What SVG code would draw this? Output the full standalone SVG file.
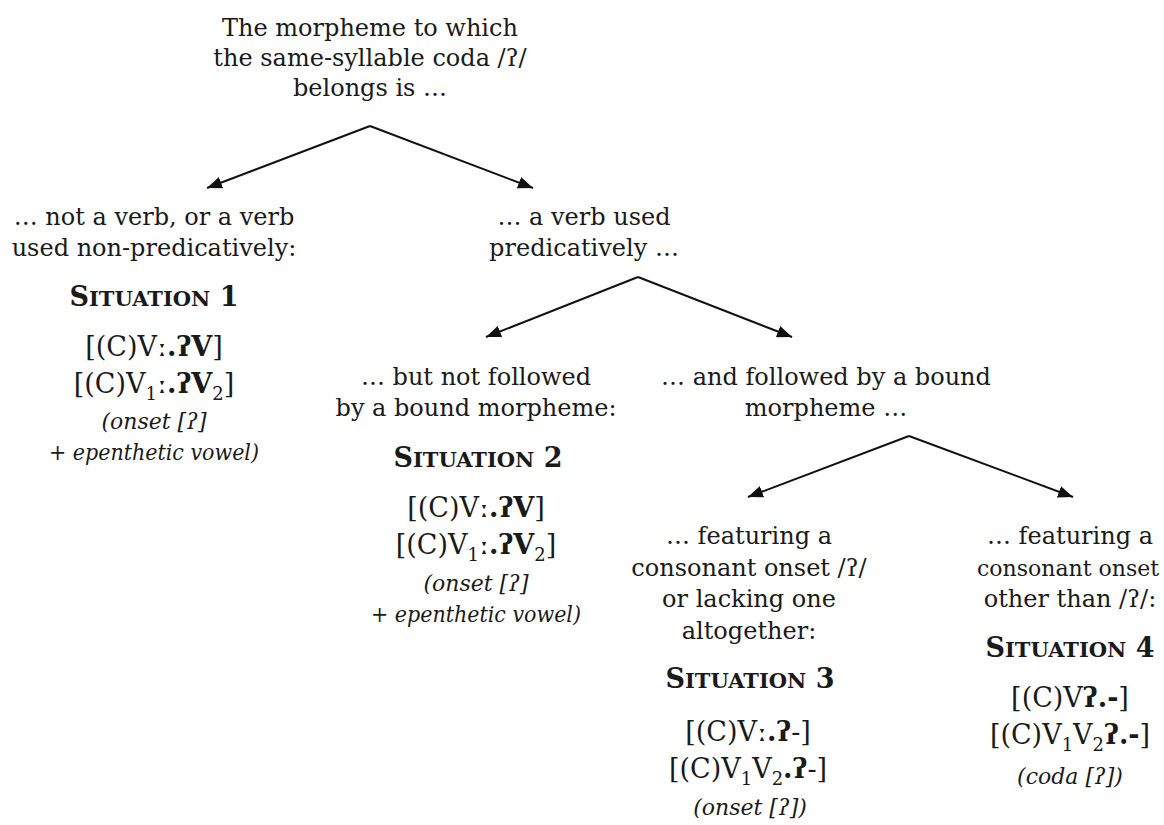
<svg xmlns="http://www.w3.org/2000/svg" width="1164" height="825" viewBox="0 0 1164 825">
<style>
text{font-family:"DejaVu Serif","Liberation Serif",serif;fill:#1a1a1a;text-anchor:middle}
.t{font-size:24px}
.f{font-size:27px}
.b{font-weight:bold}
.sub{font-size:18px}
.n{font-size:22px;font-style:italic}
.sit{font-size:27px;font-weight:bold}
.sc{font-size:21px}
.arr{fill:none;stroke:#111;stroke-width:2}
</style>
<defs>
<marker id="ah" markerUnits="userSpaceOnUse" markerWidth="16" markerHeight="12" refX="15" refY="6" orient="auto">
<path d="M0,0 L15,6 L0,12 Z" fill="#111"/>
</marker>
</defs>
<rect width="1164" height="825" fill="#fff"/>
<g id="connectors">
<path class="arr" d="M370,126 L207,188" marker-end="url(#ah)"/>
<path class="arr" d="M370,126 L533,188" marker-end="url(#ah)"/>
<path class="arr" d="M638,277 L486,337" marker-end="url(#ah)"/>
<path class="arr" d="M638,277 L792,337" marker-end="url(#ah)"/>
<path class="arr" d="M909,436 L748,497" marker-end="url(#ah)"/>
<path class="arr" d="M909,436 L1073,497" marker-end="url(#ah)"/>
</g>
<g id="root">
<text class="t" x="370" y="36">The morpheme to which</text>
<text class="t" x="370" y="66">the same-syllable coda /ʔ/</text>
<text class="t" x="370" y="96">belongs is …</text>
</g>
<g id="n-left">
<text class="t" x="154" y="225">… not a verb, or a verb</text>
<text class="t" x="154" y="256">used non-predicatively:</text>
</g>
<g id="situation1">
<text class="sit" x="154" y="306">S<tspan class="sc">ITUATION</tspan> 1</text>
<text class="f" x="154" y="356">[(C)V<tspan class="b">ː.ʔV</tspan>]</text>
<text class="f" x="154" y="393">[(C)V<tspan class="sub" dy="7">1</tspan><tspan class="b" dy="-7">ː.ʔV</tspan><tspan class="sub" dy="7">2</tspan><tspan dy="-7">]</tspan></text>
<text class="n" x="154" y="429">(onset [ʔ]</text>
<text class="n" x="154" y="460" textLength="210" lengthAdjust="spacingAndGlyphs">+ epenthetic vowel)</text>
</g>
<g id="n-verb">
<text class="t" x="584" y="225">… a verb used</text>
<text class="t" x="584" y="256">predicatively …</text>
</g>
<g id="n-notfollowed">
<text class="t" x="476" y="385">… but not followed</text>
<text class="t" x="476" y="416">by a bound morpheme:</text>
</g>
<g id="situation2">
<text class="sit" x="478" y="467">S<tspan class="sc">ITUATION</tspan> 2</text>
<text class="f" x="476" y="517">[(C)V<tspan class="b">ː.ʔV</tspan>]</text>
<text class="f" x="476" y="554">[(C)V<tspan class="sub" dy="7">1</tspan><tspan class="b" dy="-7">ː.ʔV</tspan><tspan class="sub" dy="7">2</tspan><tspan dy="-7">]</tspan></text>
<text class="n" x="476" y="591">(onset [ʔ]</text>
<text class="n" x="476" y="622" textLength="210" lengthAdjust="spacingAndGlyphs">+ epenthetic vowel)</text>
</g>
<g id="n-followed">
<text class="t" x="826" y="385">… and followed by a bound</text>
<text class="t" x="826" y="416">morpheme …</text>
</g>
<g id="n-glottal">
<text class="t" x="749" y="544">… featuring a</text>
<text class="t" x="749" y="576">consonant onset /ʔ/</text>
<text class="t" x="749" y="607">or lacking one</text>
<text class="t" x="749" y="639">altogether:</text>
</g>
<g id="situation3">
<text class="sit" x="750" y="688">S<tspan class="sc">ITUATION</tspan> 3</text>
<text class="f" x="748" y="741">[(C)V<tspan class="b">ː.ʔ</tspan>-]</text>
<text class="f" x="748" y="778">[(C)V<tspan class="sub" dy="7">1</tspan><tspan dy="-7">V</tspan><tspan class="sub" dy="7">2</tspan><tspan class="b" dy="-7">.ʔ</tspan>-]</text>
<text class="n" x="750" y="815">(onset [ʔ])</text>
</g>
<g id="n-other">
<text class="t" x="1070" y="544">… featuring a</text>
<text class="t" x="1068" y="576" style="font-size:22px">consonant onset</text>
<text class="t" x="1070" y="607">other than /ʔ/:</text>
</g>
<g id="situation4">
<text class="sit" x="1070" y="657">S<tspan class="sc">ITUATION</tspan> 4</text>
<text class="f" x="1070" y="707">[(C)V<tspan class="b">ʔ.-</tspan>]</text>
<text class="f" x="1070" y="744">[(C)V<tspan class="sub" dy="7">1</tspan><tspan dy="-7">V</tspan><tspan class="sub" dy="7">2</tspan><tspan class="b" dy="-7">ʔ.-</tspan>]</text>
<text class="n" x="1070" y="784">(coda [ʔ])</text>
</g>
</svg>
